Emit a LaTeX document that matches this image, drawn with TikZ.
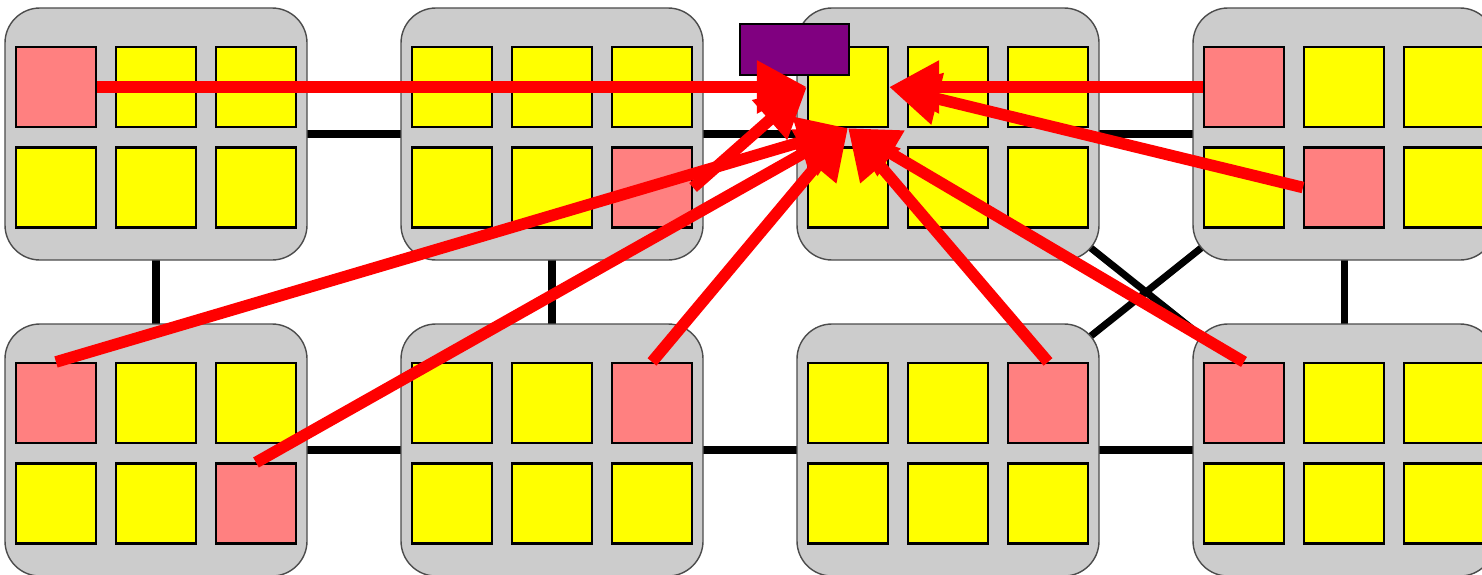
\documentclass[tikz,border=0pt]{standalone}
\usepackage{xcolor}
\usetikzlibrary{arrows.meta,backgrounds}

\definecolor{hot}{HTML}{FF8080}
\definecolor{cold}{HTML}{FFFF00}
\definecolor{shell}{HTML}{CCCCCC}
\definecolor{ctlfill}{HTML}{800080}

\tikzset{
  cluster/.style={draw=black!70, fill=shell, rounded corners=0.35cm,
    minimum width=3.02cm, minimum height=2.52cm, inner sep=0pt},
  pe/.style={draw, line width=0.6pt, minimum size=0.8cm, inner sep=0pt},
  link/.style={line width=2pt},
  push/.style={red, line width=3.3pt, -{Triangle[length=0.5cm, width=0.5cm]}},
}

\begin{document}
\begin{tikzpicture}
  \useasboundingbox (0,0) rectangle (14.82,5.74);

  % clusters, 2x3 elements each
  \foreach \r/\c/\x/\y/\ca/\cb/\cc/\cd/\ce/\cf in {
      1/1/1.56/4.40/hot/cold/cold/cold/cold/cold,
      1/2/5.52/4.40/cold/cold/cold/cold/cold/hot,
      1/3/9.48/4.40/cold/cold/cold/cold/cold/cold,
      1/4/13.44/4.40/hot/cold/cold/cold/hot/cold,
      2/1/1.56/1.24/hot/cold/cold/cold/cold/hot,
      2/2/5.52/1.24/cold/cold/hot/cold/cold/cold,
      2/3/9.48/1.24/cold/cold/hot/cold/cold/cold,
      2/4/13.44/1.24/hot/cold/cold/cold/cold/cold} {
    \node[cluster] (n\r\c) at (\x,\y) {};
    \foreach \i/\j/\dx/\dy/\col in {1/1/-1/0.47/\ca, 1/2/0/0.47/\cb, 1/3/1/0.47/\cc,
                                   2/1/-1/-0.535/\cd, 2/2/0/-0.535/\ce, 2/3/1/-0.535/\cf}
      \node[pe, fill=\col] (n\r\c-\i\j) at (\x+\dx,\y+\dy) {};
  }

  % network behind the clusters
  \begin{scope}[on background layer]
    \foreach \a/\b in {n11/n12, n12/n13, n13/n14, n21/n22, n22/n23, n23/n24,
                       n11/n21, n12/n22, n14/n24, n13/n24, n14/n23}
      \draw[link] (\a.center) -- (\b.center);
  \end{scope}

  \node[draw, fill=ctlfill, minimum width=1.09cm, minimum height=0.51cm,
        inner sep=0pt] (ctl) at (7.945,5.245) {};

  % traffic into one element
  \draw[push] (n11-11.east) -- (n13-11.west);
  \draw[push] (n12-23.east) -- (n13-11.west);
  \draw[push] (n21-11.north) -- (n13-11.south);
  \draw[push] (n21-23.north) -- (n13-11.south);
  \draw[push] (n22-13.north) -- (n13-11.south);
  \draw[push] (n23-13.north) -- (n13-11.south);
  \draw[push] (n24-11.north) -- (n13-11.south);
  \draw[push] (n14-11.west) -- (n13-11.east);
  \draw[push] (n14-22.west) -- (n13-11.east);
\end{tikzpicture}
\end{document}
